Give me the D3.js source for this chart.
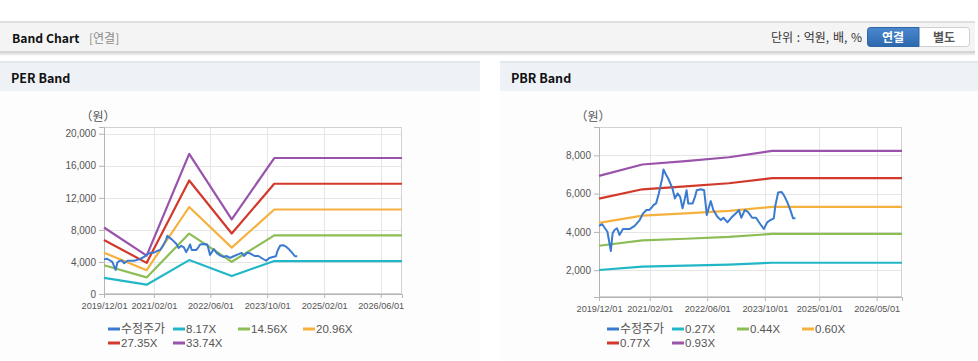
<!DOCTYPE html>
<html><head><meta charset="utf-8">
<script src="https://cdn.jsdelivr.net/npm/d3@7"></script>
<style>
html,body{margin:0;padding:0;background:#fff;}
svg{display:block;}
</style></head>
<body>
<svg id="c" width="978" height="361"></svg>
<script>
// ---------- DATA ----------
const priceDates = ["2019-12-01","2019-12-28","2020-02-10","2020-03-10","2020-03-25","2020-04-10","2020-05-01","2020-05-22","2020-06-20","2020-08-15","2020-09-27","2020-11-08","2020-12-07","2021-01-04","2021-01-27","2021-02-15","2021-03-05","2021-03-27","2021-04-19","2021-05-17","2021-05-28","2021-06-18","2021-07-07","2021-08-12","2021-09-02","2021-09-24","2021-10-16","2021-11-05","2021-11-25","2021-12-09","2021-12-23","2022-01-29","2022-02-18","2022-03-05","2022-04-08","2022-05-06","2022-05-29","2022-06-17","2022-07-01","2022-07-23","2022-08-26","2022-09-24","2022-10-16","2022-11-19","2022-12-17","2023-01-29","2023-02-24","2023-03-16","2023-04-14","2023-05-11","2023-06-15","2023-07-18","2023-08-24","2023-09-22","2023-10-20","2023-11-17","2023-12-15","2023-12-29","2024-01-21","2024-02-18","2024-03-09","2024-04-06","2024-05-03","2024-05-26","2024-06-15"];
const priceValues = [4320,4400,4010,3005,3930,4100,4190,3840,4150,4150,4320,4620,4970,5140,5140,5260,5400,5490,6010,6790,7260,7000,6790,6270,5750,6010,5830,5230,5750,6180,5490,5490,5830,6180,6230,6180,4880,5310,5610,5140,4790,4620,4740,4500,4710,4970,5140,4740,5140,5050,4740,4740,4400,4150,4500,4620,4710,5400,6060,6090,5920,5570,5140,4710,4710];

const bandDates = ["2019-12-01","2020-12-01","2021-12-01","2022-12-01","2023-12-01","2026-12-01"];

const perLabels = ["수정주가","8.17X","14.56X","20.96X","27.35X","33.74X"];
const per817  = [2010,1160,4232,2255,4110,4110];
const per1456 = [3582,2068,7542,4019,7324,7324];
const per2096 = [5156,2976,10857,5785,10543,10543];
const per2735 = [6728,3884,14167,7549,13757,13757];
const per3374 = [8300,4791,17477,9312,16971,16971];
const perYTicks = [0,4000,8000,12000,16000,20000];
const perXTicks = ["2019-12-01","2021-02-01","2022-06-01","2023-10-01","2025-02-01","2026-06-01"];

const pbrLabels = ["수정주가","0.27X","0.44X","0.60X","0.77X","0.93X"];
const pbr027 = [2011,2183,2236,2294,2389,2389];
const pbr044 = [3277,3558,3643,3738,3893,3893];
const pbr060 = [4469,4852,4968,5097,5309,5309];
const pbr077 = [5735,6226,6376,6541,6813,6813];
const pbr093 = [6927,7520,7700,7900,8229,8229];
const pbrYTicks = [2000,4000,6000,8000];
const pbrXTicks = ["2019-12-01","2021-02-01","2022-06-01","2023-10-01","2025-01-01","2026-05-01"];

const colors = ["#3a7bd0","#22b7c7","#8dbd55","#f5b13d","#d2392b","#9a53aa"];

// ---------- DRAW ----------
const parse = d3.timeParse("%Y-%m-%d");
const fmtTick = d3.timeFormat("%Y/%m/%d");
const svg = d3.select("#c");
const KR = "'Noto Sans CJK KR','Noto Sans',sans-serif";
const LAT = "'Liberation Sans',Arial,sans-serif";

const defs = svg.append("defs");
const sh = defs.append("linearGradient").attr("id","shadow").attr("x1",0).attr("x2",0).attr("y1",0).attr("y2",1);
sh.append("stop").attr("offset","0").attr("stop-color","#cfcfcf");
sh.append("stop").attr("offset","1").attr("stop-color","#ffffff");
const bg = defs.append("linearGradient").attr("id","btn").attr("x1",0).attr("x2",0).attr("y1",0).attr("y2",1);
bg.append("stop").attr("offset","0").attr("stop-color","#4a88cf");
bg.append("stop").attr("offset","1").attr("stop-color","#2d68ad");

// header bar
svg.append("rect").attr("x",0).attr("y",52).attr("width",975).attr("height",4).attr("fill","url(#shadow)");
svg.append("rect").attr("x",0).attr("y",21).attr("width",975).attr("height",31).attr("fill","#f4f4f4");
svg.append("rect").attr("x",0).attr("y",21).attr("width",975).attr("height",2).attr("fill","#e0e0e0");
svg.append("line").attr("x1",0).attr("x2",975).attr("y1",51.5).attr("y2",51.5).attr("stroke","#d6d6d6");
svg.append("text").attr("x",12).attr("y",43).attr("font-family",KR).attr("font-weight","bold")
  .attr("font-size",12.2).attr("fill","#111").text("Band Chart");
svg.append("text").attr("x",89).attr("y",43).attr("font-family",KR)
  .attr("font-size",12).attr("fill","#8a8a8a").text("[연결]");
svg.append("text").attr("x",862).attr("y",42).attr("text-anchor","end").attr("font-family",KR)
  .attr("font-size",12).attr("fill","#333").attr("word-spacing",1).text("단위 : 억원, 배, %");
svg.append("rect").attr("x",867.5).attr("y",27.5).attr("width",102).attr("height",19).attr("rx",3)
  .attr("fill","#fff").attr("stroke","#cfcfcf");
svg.append("path").attr("d","M870.5,27.5 H919 V46.5 H870.5 Q867.5,46.5 867.5,43.5 V30.5 Q867.5,27.5 870.5,27.5 Z")
  .attr("fill","url(#btn)").attr("stroke","#2c65a8");
svg.append("text").attr("x",893).attr("y",41.5).attr("text-anchor","middle").attr("font-family",KR)
  .attr("font-weight","bold").attr("font-size",12).attr("fill","#fff").text("연결");
svg.append("text").attr("x",944).attr("y",41.5).attr("text-anchor","middle").attr("font-family",KR)
  .attr("font-weight","bold").attr("font-size",12).attr("fill","#555").text("별도");

function panel(opt){
  const g = svg.append("g");
  // title bar
  g.append("rect").attr("x",opt.bx).attr("y",91).attr("width",opt.bw).attr("height",270).attr("fill","#fdfdfd");
  g.append("rect").attr("x",opt.bx).attr("y",62).attr("width",opt.bw).attr("height",29).attr("fill","#eef2f7");
  g.append("rect").attr("x",opt.bx).attr("y",61).attr("width",opt.bw).attr("height",2).attr("fill","#e3e6eb");
  g.append("text").attr("x",opt.bx+11).attr("y",83).attr("font-family",KR).attr("font-weight","bold")
    .attr("font-size",12.5).attr("fill","#111").text(opt.title);

  const x = d3.scaleTime().domain([parse("2019-12-01"),parse("2026-12-01")]).range([opt.left,opt.right]);
  const y = d3.scaleLinear().domain(opt.ydom).range([opt.bottom,opt.top]);

  g.append("rect").attr("x",opt.left).attr("y",opt.top).attr("width",opt.right-opt.left)
    .attr("height",opt.bottom-opt.top).attr("fill","#fff");
  // grid
  const xt = opt.xticks.map(parse);
  g.selectAll(".vg").data(xt).enter().append("line")
    .attr("x1",d=>Math.round(x(d))+0.5).attr("x2",d=>Math.round(x(d))+0.5)
    .attr("y1",opt.top).attr("y2",opt.bottom).attr("stroke","#e6e6e6");
  g.selectAll(".hg").data(opt.yticks).enter().append("line")
    .attr("x1",opt.left).attr("x2",opt.right)
    .attr("y1",d=>Math.round(y(d))+0.5).attr("y2",d=>Math.round(y(d))+0.5).attr("stroke","#e6e6e6");
  g.append("rect").attr("x",opt.left+0.5).attr("y",opt.top+0.5).attr("width",opt.right-opt.left-1)
    .attr("height",opt.bottom-opt.top-1).attr("fill","none").attr("stroke","#d2d2d2");

  // axes
  const ya = g.append("g").attr("transform",`translate(${opt.left},0)`)
    .call(d3.axisLeft(y).tickValues(opt.yticks).tickSize(5).tickPadding(3).tickFormat(d3.format(",")));
  ya.select(".domain").attr("stroke","#b5b5b5");
  ya.selectAll(".tick line").attr("stroke","#b5b5b5");
  ya.selectAll("text").attr("font-family",LAT).attr("font-size",10).attr("fill","#555");
  const xa = g.append("g").attr("transform",`translate(0,${opt.bottom})`)
    .call(d3.axisBottom(x).tickValues(xt).tickSize(4).tickPadding(4).tickFormat(fmtTick));
  xa.select(".domain").attr("stroke","#b5b5b5");
  xa.selectAll(".tick line").attr("stroke","#b5b5b5");
  xa.selectAll("text").attr("font-family",LAT).attr("font-size",9.2).attr("fill","#555");

  g.append("text").attr("x",opt.left-6).attr("y",opt.top-6).attr("text-anchor","middle").attr("font-family",KR)
    .attr("font-size",12).attr("fill","#555").text("（원）");

  const bd = bandDates.map(parse);
  const line = d3.line().x(d=>x(d[0])).y(d=>y(d[1]));
  opt.bands.forEach((vals,i)=>{
    g.append("path").datum(bd.map((d,j)=>[d,vals[j]])).attr("d",line)
      .attr("fill","none").attr("stroke",colors[i+1]).attr("stroke-width",2.2).attr("stroke-linejoin","round");
  });
  const pd = priceDates.map(parse);
  g.append("path").datum(pd.map((d,j)=>[d,priceValues[j]])).attr("d",line)
    .attr("fill","none").attr("stroke",colors[0]).attr("stroke-width",2).attr("stroke-linejoin","round");

  // legend
  opt.labels.forEach((lab,i)=>{
    const col = i%4, row = Math.floor(i/4);
    const lx = opt.legX + col*65, ly = 329 + row*14;
    g.append("line").attr("x1",lx).attr("x2",lx+12).attr("y1",ly).attr("y2",ly)
      .attr("stroke",colors[i]).attr("stroke-width",3);
    g.append("text").attr("x",lx+13).attr("y",ly+4).attr("font-family",i===0?KR:LAT)
      .attr("font-size",i===0?12:11.5).attr("fill","#555").text(lab);
  });
}

panel({title:"PER Band",bx:0,bw:480,left:104,right:402,top:127,bottom:294,ydom:[0,20840],
  yticks:perYTicks,xticks:perXTicks,bands:[per817,per1456,per2096,per2735,per3374],labels:perLabels,legX:108});
panel({title:"PBR Band",bx:500,bw:478,left:599,right:902,top:127,bottom:297,ydom:[600,9480],
  yticks:pbrYTicks,xticks:pbrXTicks,bands:[pbr027,pbr044,pbr060,pbr077,pbr093],labels:pbrLabels,legX:607});
</script>
</body></html>
